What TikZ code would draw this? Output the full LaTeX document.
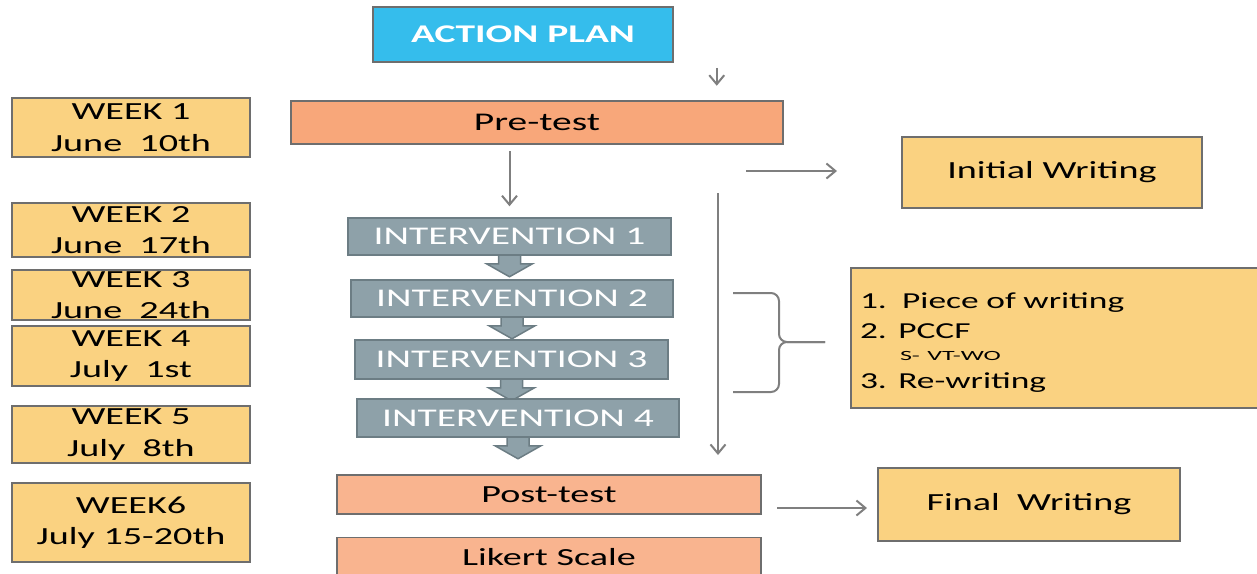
\documentclass[tikz,border=0pt]{standalone}
\usepackage{fontspec}
\setmainfont{Carlito}[FakeStretch=1.55]
\newfontfamily\widefont{Carlito}[FakeStretch=1.85]
\usepackage{xcolor}
\usepackage{tikz}
\usetikzlibrary{arrows.meta, calc, backgrounds}
\definecolor{planblue}{HTML}{35BDEC}
\definecolor{preorange}{HTML}{F8A77A}
\definecolor{postorange}{HTML}{F9B48F}
\definecolor{weekyellow}{HTML}{FAD281}
\definecolor{intergray}{HTML}{8EA1A9}
\definecolor{interedge}{HTML}{6C7D84}
\definecolor{boxgray}{HTML}{6E6E6E}
\definecolor{linegray}{HTML}{7F7F7F}
\tikzset{
  basebox/.style={
    draw=boxgray, line width=0.3mm, inner sep=0pt, align=center,
    font=\fontsize{14}{18}\selectfont
  },
  planbox/.style={basebox, fill=planblue, text=white, font=\fontsize{14.5}{18}\selectfont\bfseries},
  pretestbox/.style={basebox, fill=preorange, font=\fontsize{14.5}{18}\selectfont},
  posttestbox/.style={basebox, fill=postorange, minimum width=84.8mm, minimum height=7.8mm},
  interbox/.style={basebox, draw=interedge, fill=intergray, text=white, font=\fontsize{14.5}{18}\selectfont},
  weekbox/.style={basebox, fill=weekyellow, minimum width=47.6mm},
  writebox/.style={basebox, fill=weekyellow},
  flowarrow/.style={-{Straight Barb[length=1.8mm, width=3mm]}, line width=0.4mm, draw=linegray},
  blockarrow/.style={fill=intergray, draw=interedge, line width=0.3mm},
  bracepath/.style={draw=linegray, line width=0.4mm, rounded corners=1.6mm},
}
\begin{document}
\begin{tikzpicture}[x=0.2mm, y=-0.2mm]
  \useasboundingbox (0,0) rectangle (1257,573);
  \node[planbox, minimum width=60mm, minimum height=11mm] (plan) at (523,34.5) {ACTION PLAN};
  \node[pretestbox, minimum width=98.4mm, minimum height=8.6mm] (pre) at (537,122.5) {Pre-test};
  \node[interbox, minimum width=64.6mm, minimum height=7.4mm] (i1) at (509.5,236.5) {INTERVENTION 1};
  \node[interbox, minimum width=64.4mm, minimum height=7.4mm] (i2) at (512,298.5) {INTERVENTION 2};
  \node[interbox, minimum width=62.6mm, minimum height=7.8mm] (i3) at (511.5,359.5) {INTERVENTION 3};
  \node[interbox, minimum width=64.4mm, minimum height=7.6mm] (i4) at (518,418) {INTERVENTION 4};
  \node[posttestbox] (post) at (549,494.5) {Post-test};
  \node[posttestbox] (likert) at (549,557) {Likert Scale};
  \node[weekbox, minimum height=11.8mm] (w1) at (131,127.5) {WEEK 1\\June\ \ 10th};
  \node[weekbox, minimum height=10.8mm] (w2) at (131,230) {WEEK 2\\June\ \ 17th};
  \node[weekbox, minimum height=10mm] (w3) at (131,295) {WEEK 3\\June\ \ 24th};
  \node[weekbox, minimum height=12mm] (w4) at (131,356) {WEEK 4\\July\ \ 1st};
  \node[weekbox, minimum height=11.4mm] (w5) at (131,434.5) {WEEK 5\\July\ \ 8th};
  \node[weekbox, minimum height=15.8mm] (w6) at (131,522.5) {WEEK6\\July 15-20th};
  \node[writebox, minimum width=60mm, minimum height=14.2mm] (initial) at (1052,172.5) {Initial Writing};
  \node[writebox, minimum width=60.4mm, minimum height=14.6mm] (final) at (1029,504.5) {Final\ \ Writing};
  \node[writebox, align=left, inner xsep=1.8mm, text width=78.4mm, minimum height=28mm,
        text height=5mm, font=\fontsize{13}{17}\selectfont] (steps) at (1056,338)
    {1.\ \ Piece of writing\\
     2. PCCF\\[-4pt]
     \hspace*{8mm}{\widefont\fontsize{8}{9}\selectfont S- VT-WO}\\[-1pt]
     3. Re-writing};
  \begin{scope}[on background layer]
    \foreach \n in {i1,i2,i3,i4}
      \draw[blockarrow] ($(\n.south)+(-11,-1)$) -- ++(0,9) -- ++(-12,0) -- ++(23,13)
        -- ++(23,-13) -- ++(-12,0) -- ++(0,-9) -- cycle;
  \end{scope}
  \coordinate (planout) at ($(plan.south east)+(43,5)$);
  \coordinate (spinetop) at (718,193);
  \coordinate (spineend) at (718,455);
  \coordinate (initfrom) at (746,171);
  \coordinate (initto) at (837,171);
  \coordinate (finalfrom) at (777,508);
  \coordinate (finalto) at (867,508);
  \coordinate (bracetop) at (733,293);
  \coordinate (bracebot) at (733,392);
  \coordinate (bracetip) at (825,342);
  \draw[flowarrow] (planout) -- ++(0,18);
  \draw[flowarrow] ($(i1.north)+(0,-66)$) -- ($(i1.north)+(0,-11)$);
  \draw[flowarrow] (spinetop) -- (spineend);
  \draw[flowarrow] (initfrom) -- (initto);
  \draw[flowarrow] (finalfrom) -- (finalto);
  \draw[bracepath] (bracetop) -| ($(bracetip)+(-46,0)$) -- (bracetip);
  \draw[bracepath] (bracebot) -| ($(bracetip)+(-46,0)$) -- (bracetip);
\end{tikzpicture}
\end{document}
